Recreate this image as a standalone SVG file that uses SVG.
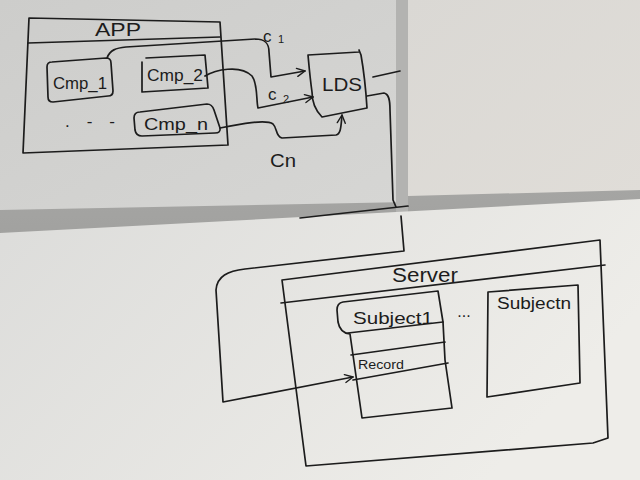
<svg xmlns="http://www.w3.org/2000/svg" width="640" height="480" viewBox="0 0 640 480">
<defs>
<linearGradient id="gTL" x1="0" y1="0" x2="1" y2="1">
<stop offset="0" stop-color="#cdcdcb"/><stop offset="1" stop-color="#d6d6d4"/>
</linearGradient>
<linearGradient id="gTR" x1="0" y1="0" x2="1" y2="1">
<stop offset="0" stop-color="#dad8d4"/><stop offset="1" stop-color="#e0ddd8"/>
</linearGradient>
<linearGradient id="gB" x1="0" y1="0" x2="1" y2="0.4">
<stop offset="0" stop-color="#dcdcda"/><stop offset="1" stop-color="#eeede9"/>
</linearGradient>
<linearGradient id="gSh" x1="0" y1="0" x2="0" y2="1">
<stop offset="0" stop-color="#b4b4b2"/><stop offset="1" stop-color="#8e8e8c"/>
</linearGradient>
<marker id="arr" viewBox="0 0 10 10" refX="9" refY="5" markerWidth="10" markerHeight="10" markerUnits="userSpaceOnUse" orient="auto">
<path d="M1,1 L9,5 L1,9" fill="none" stroke="#1c1c1c" stroke-width="1.4" stroke-linecap="round" stroke-linejoin="round"/>
</marker>
<style>
.ink{fill:none;stroke:#1c1c1c;stroke-width:1.7;stroke-linecap:round;stroke-linejoin:round}
.t{font-family:"Liberation Sans","DejaVu Sans",sans-serif;fill:#1c1c1c}
</style>
</defs>

<!-- paper sheets (photo background) -->
<rect x="0" y="0" width="640" height="480" fill="url(#gSh)"/>
<polygon points="0,0 408,0 408,202 0,210" fill="url(#gTL)"/>
<polygon points="396,0 408,0 408,212 396,212" fill="#b3b3b1"/>
<polygon points="408,0 640,0 640,190 408,196" fill="url(#gTR)"/>
<polygon points="0,233 640,199 640,480 0,480" fill="url(#gB)"/>

<!-- App -->
<g id="app">
<path class="ink" d="M29,18 L220,22 L228,145 L23,153 Z"/>
<path class="ink" d="M28,43 L220,37"/>
<text class="t" x="118" y="36" font-size="18" text-anchor="middle" textLength="46" lengthAdjust="spacingAndGlyphs">APP</text>
</g>

<g id="cmp1">
<path class="ink" d="M52,62 L106,58 Q111,58 111,63 L113,91 Q113,96 108,96 L53,102 Q48,102 48,97 L47,67 Q47,62 52,62 Z"/>
<text class="t" x="80" y="89" font-size="17" text-anchor="middle" textLength="54" lengthAdjust="spacingAndGlyphs">Cmp_1</text>
</g>

<g id="cmp2">
<path class="ink" d="M142,62 L142,92 L208,88 L205,55 L146,58"/>
<text class="t" x="175" y="81" font-size="17" text-anchor="middle" textLength="56" lengthAdjust="spacingAndGlyphs">Cmp_2</text>
</g>

<g id="cmpn">
<path class="ink" d="M140,112 L207,104 Q212,104 214,110 L220,128 Q221,133 215,133 L142,136 Q136,136 135,130 L134,118 Q134,112 140,112 Z"/>
<text class="t" x="176" y="130" font-size="17" text-anchor="middle" textLength="64" lengthAdjust="spacingAndGlyphs">Cmp_n</text>
</g>

<g id="dots-app">
<text class="t" x="90" y="127" font-size="17" text-anchor="middle" textLength="50" lengthAdjust="spacing">. - -</text>
</g>

<g id="lds">
<path class="ink" d="M308,55 L359,52 M359,50 L361,55 C364,72 366,92 367,108 L322,117 C315,110 312,102 312,92 C310,78 309,66 308,55"/>
<text class="t" x="342" y="91" font-size="19" text-anchor="middle" textLength="40" lengthAdjust="spacingAndGlyphs">LDS</text>
</g>

<!-- Server -->
<g id="server">
<path class="ink" d="M282,280 L600,240 L608,438 L593,443 L306,466 Z"/>
<path class="ink" d="M281,303 L605,265"/>
<text class="t" x="425" y="282" font-size="20" text-anchor="middle" textLength="66" lengthAdjust="spacingAndGlyphs">Server</text>
</g>

<g id="subject1">
<path class="ink" d="M343,302 L438,291 L443,322 L445,360 L452,408 L362,418 L350,334 Q340,333 338,322 L337,310 Q337,303 343,302 Z"/>
<path class="ink" d="M348,333 L443,322"/>
<path class="ink" d="M351,355 L445,342"/>
<path class="ink" d="M353,380 L448,363"/>
<text class="t" x="393" y="324" font-size="17" text-anchor="middle" textLength="80" lengthAdjust="spacingAndGlyphs">Subject1</text>
<text class="t" x="358" y="369" font-size="12" textLength="46" lengthAdjust="spacingAndGlyphs">Record</text>
</g>

<g id="dots-server">
<text class="t" x="464" y="317" font-size="16" text-anchor="middle">...</text>
</g>

<g id="subjectn">
<path class="ink" d="M488,292 L578,285 L580,383 L487,397 Z"/>
<text class="t" x="497" y="309" font-size="16" textLength="74" lengthAdjust="spacingAndGlyphs">Subjectn</text>
</g>

<!-- connectors -->
<g id="connectors">
<path class="ink" marker-end="url(#arr)" d="M107,58 C110,50 116,48 126,47 L255,39 C266,39 269,44 269,52 L271,77 L305,71"/>
<path class="ink" marker-end="url(#arr)" d="M205,76 C215,70 240,64 252,76 C258,84 256,100 258,108 L313,97"/>
<path class="ink" marker-end="url(#arr)" d="M220,128 C240,124 266,119 273,124 C278,129 275,136 282,138 L336,135 C341,134 341,126 342,115"/>
<path class="ink" d="M373,77 L400,71"/>
<path class="ink" d="M367,96 L384,93 C389,94 390,100 390,110 L393,200 L396,207"/>
<path class="ink" d="M300,218 L408,206"/>
<path class="ink" marker-end="url(#arr)" d="M401,216 L404,251 L245,269 C228,271 217,276 216,290 L223,402 L353,377"/>
<text class="t" x="263" y="42" font-size="17">c</text>
<text class="t" x="278" y="43" font-size="11">1</text>
<text class="t" x="268" y="100" font-size="17">c</text>
<text class="t" x="283" y="103" font-size="11">2</text>
<text class="t" x="270" y="167" font-size="18" textLength="26" lengthAdjust="spacingAndGlyphs">Cn</text>
</g>
</svg>
